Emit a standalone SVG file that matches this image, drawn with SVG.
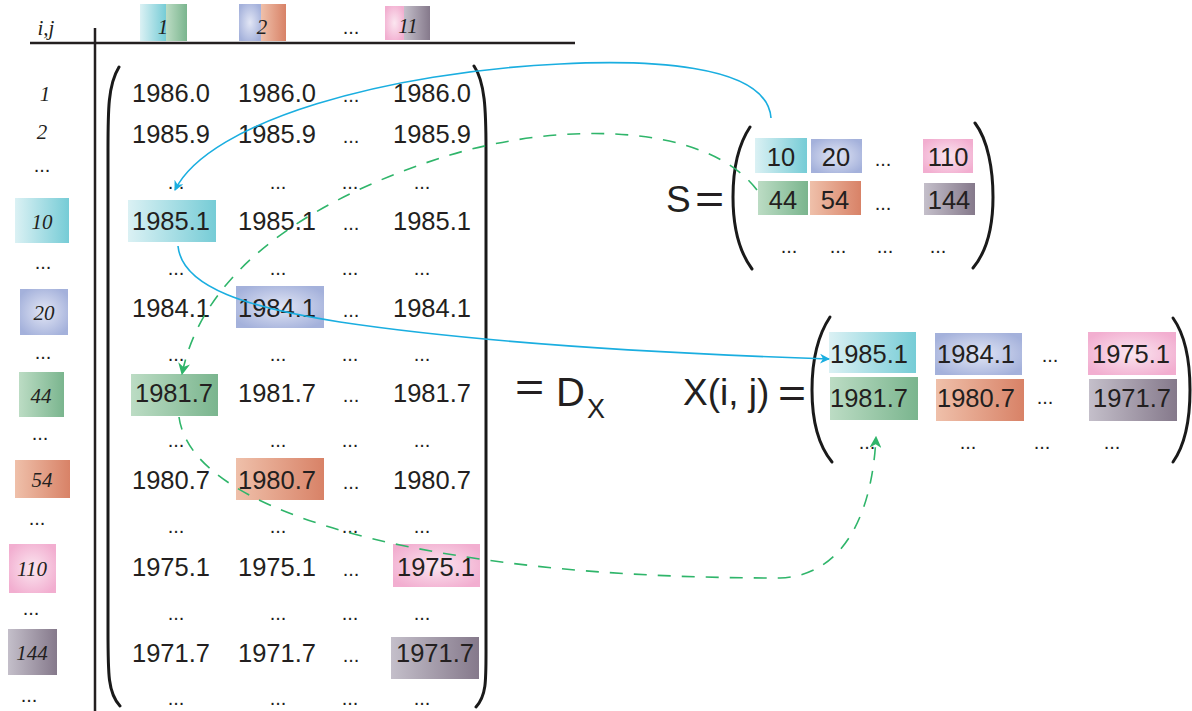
<svg xmlns="http://www.w3.org/2000/svg" width="1192" height="711" viewBox="0 0 1192 711">
<style>
.num{font-family:"Liberation Sans",Arial,sans-serif;font-size:25.5px;fill:#231f20;text-anchor:middle}
.numl{font-family:"Liberation Sans",Arial,sans-serif;font-size:25.5px;fill:#231f20}
.dots{font-family:"Liberation Sans",Arial,sans-serif;font-size:20px;fill:#231f20;text-anchor:middle}
.lab{font-family:"Liberation Serif","DejaVu Serif",serif;font-style:italic;font-size:21px;fill:#231f20;text-anchor:middle}
.big{font-family:"Liberation Sans",Arial,sans-serif;fill:#231f20}
.paren{fill:none;stroke:#1a1a1a;stroke-width:3;stroke-linecap:round}
.rule{stroke:#231f20;stroke-width:2.5}
.blue{fill:none;stroke:#1aaee0;stroke-width:1.6}
.green{fill:none;stroke:#2fb56a;stroke-width:1.6;stroke-dasharray:13 11}
</style>
<defs>
<linearGradient id="gC" x1="0" x2="1" y1="0" y2="0"><stop offset="0" stop-color="#dbf1f4"/><stop offset="1" stop-color="#76ccd6"/></linearGradient>
<linearGradient id="gG" x1="0" x2="1" y1="0" y2="0"><stop offset="0" stop-color="#bcdcc4"/><stop offset="1" stop-color="#7ab58e"/></linearGradient>
<radialGradient id="gB" cx="0.5" cy="0.5" r="0.6"><stop offset="0" stop-color="#e2e6f5"/><stop offset="1" stop-color="#a4b1db"/></radialGradient>
<linearGradient id="gO" x1="0" x2="1" y1="0" y2="0"><stop offset="0" stop-color="#efc0aa"/><stop offset="1" stop-color="#d88267"/></linearGradient>
<radialGradient id="gP" cx="0.5" cy="0.5" r="0.6"><stop offset="0" stop-color="#fbe6f0"/><stop offset="1" stop-color="#f2aed0"/></radialGradient>
<linearGradient id="gV" x1="0" x2="1" y1="0" y2="0"><stop offset="0" stop-color="#c4bfca"/><stop offset="1" stop-color="#85798b"/></linearGradient>
<marker id="aB" viewBox="0 0 10 10" refX="9" refY="5" markerWidth="10" markerHeight="10" markerUnits="userSpaceOnUse" orient="auto"><path d="M0,0 L10,5 L0,10 L3,5 z" fill="#1aaee0"/></marker>
<marker id="aG" viewBox="0 0 10 10" refX="9" refY="5" markerWidth="12" markerHeight="12" markerUnits="userSpaceOnUse" orient="auto"><path d="M0,0 L10,5 L0,10 L3,5 z" fill="#2fb56a"/></marker>
</defs>

<g id="table-frame">
<line class="rule" x1="30" y1="43" x2="575" y2="43"/>
<line class="rule" x1="95" y1="28" x2="95" y2="711"/>
</g>

<g id="header">
<text class="lab" x="46" y="35">i,j</text>
<rect x="140" y="4" width="26" height="37" fill="url(#gC)"/><rect x="166" y="4" width="21" height="37" fill="url(#gG)"/>
<text class="lab" x="163" y="34">1</text>
<rect x="239" y="4" width="22" height="37" fill="url(#gB)"/><rect x="261" y="4" width="25" height="37" fill="url(#gO)"/>
<text class="lab" x="262" y="34">2</text>
<text class="dots" x="351" y="34">...</text>
<rect x="385" y="6" width="19" height="34" fill="url(#gP)"/><rect x="404" y="6" width="26" height="34" fill="url(#gV)"/>
<text class="lab" x="408" y="33">11</text>
</g>

<g id="row-labels">
<text class="lab" x="45" y="101">1</text>
<text class="lab" x="42" y="139">2</text>
<text class="dots" x="42" y="172">...</text>
<rect x="15" y="198" width="54" height="45" fill="url(#gC)"/><text class="lab" x="42" y="229">10</text>
<text class="dots" x="43" y="269">...</text>
<rect x="20" y="289" width="48" height="46" fill="url(#gB)"/><text class="lab" x="44" y="320">20</text>
<text class="dots" x="43" y="359">...</text>
<rect x="19" y="372" width="45" height="45" fill="url(#gG)"/><text class="lab" x="41" y="403">44</text>
<text class="dots" x="40" y="440">...</text>
<rect x="15" y="460" width="55" height="38" fill="url(#gO)"/><text class="lab" x="42" y="487">54</text>
<text class="dots" x="37" y="525">...</text>
<rect x="9" y="544" width="47" height="49" fill="url(#gP)"/><text class="lab" x="32" y="576">110</text>
<text class="dots" x="31" y="615">...</text>
<rect x="8" y="629" width="49" height="46" fill="url(#gV)"/><text class="lab" x="32" y="660">144</text>
<text class="dots" x="29" y="702">...</text>
</g>

<g id="matrix-D">
<rect x="128" y="200" width="88" height="42" fill="url(#gC)"/>
<rect x="236" y="286" width="88" height="42" fill="url(#gB)"/>
<rect x="131" y="374" width="87" height="42" fill="url(#gG)"/>
<rect x="236" y="458" width="88" height="42" fill="url(#gO)"/>
<rect x="393" y="544" width="87" height="43" fill="url(#gP)"/>
<rect x="391" y="637" width="88" height="42" fill="url(#gV)"/>
<path class="paren" d="M119,67 C108,85 108,110 108,150 L108,630 C108,675 108,693 120,706"/>
<path class="paren" d="M474,66 C485,82 486,110 486,150 L486,640 C486,680 487,695 476,707"/>
<g>
<text class="num" x="171" y="102">1986.0</text><text class="num" x="277" y="102">1986.0</text><text class="dots" x="351" y="102">...</text><text class="num" x="432" y="102">1986.0</text>
<text class="num" x="171" y="143">1985.9</text><text class="num" x="277" y="143">1985.9</text><text class="dots" x="351" y="143">...</text><text class="num" x="432" y="143">1985.9</text>
<text class="dots" x="176" y="189">...</text><text class="dots" x="278" y="189">...</text><text class="dots" x="350" y="189">...</text><text class="dots" x="422" y="189">...</text>
<text class="num" x="171" y="230">1985.1</text><text class="num" x="277" y="230">1985.1</text><text class="dots" x="351" y="230">...</text><text class="num" x="432" y="230">1985.1</text>
<text class="dots" x="176" y="275">...</text><text class="dots" x="278" y="275">...</text><text class="dots" x="350" y="275">...</text><text class="dots" x="422" y="275">...</text>
<text class="num" x="171" y="317">1984.1</text><text class="num" x="277" y="317">1984.1</text><text class="dots" x="351" y="317">...</text><text class="num" x="432" y="317">1984.1</text>
<text class="dots" x="176" y="361">...</text><text class="dots" x="278" y="361">...</text><text class="dots" x="350" y="361">...</text><text class="dots" x="422" y="361">...</text>
<text class="num" x="174" y="402">1981.7</text><text class="num" x="277" y="402">1981.7</text><text class="dots" x="351" y="402">...</text><text class="num" x="432" y="402">1981.7</text>
<text class="dots" x="176" y="447">...</text><text class="dots" x="278" y="447">...</text><text class="dots" x="350" y="447">...</text><text class="dots" x="422" y="447">...</text>
<text class="num" x="171" y="489">1980.7</text><text class="num" x="277" y="489">1980.7</text><text class="dots" x="351" y="489">...</text><text class="num" x="432" y="489">1980.7</text>
<text class="dots" x="176" y="533">...</text><text class="dots" x="278" y="533">...</text><text class="dots" x="350" y="533">...</text><text class="dots" x="422" y="533">...</text>
<text class="num" x="171" y="576">1975.1</text><text class="num" x="277" y="576">1975.1</text><text class="dots" x="351" y="576">...</text><text class="num" x="436" y="576">1975.1</text>
<text class="dots" x="176" y="620">...</text><text class="dots" x="278" y="620">...</text><text class="dots" x="350" y="620">...</text><text class="dots" x="422" y="620">...</text>
<text class="num" x="171" y="662">1971.7</text><text class="num" x="277" y="662">1971.7</text><text class="dots" x="351" y="662">...</text><text class="num" x="435" y="662">1971.7</text>
<text class="dots" x="176" y="705">...</text><text class="dots" x="278" y="705">...</text><text class="dots" x="350" y="705">...</text><text class="dots" x="422" y="705">...</text>
</g>
</g>

<g id="eq-Dx">
<text class="big" font-size="40" transform="translate(515,401) scale(1.25,1)">=</text>
<text class="big" x="556" y="406" font-size="40">D</text>
<text class="big" x="587" y="418" font-size="27">X</text>
</g>

<g id="matrix-S">
<text class="big" x="666" y="212" font-size="37">S</text>
<text class="big" font-size="40" transform="translate(695,213) scale(1.25,1)">=</text>
<path class="paren" d="M750,127 C738,145 733,170 733,197 C733,225 738,250 752,269"/>
<path class="paren" d="M975,123 C988,140 993,170 993,197 C993,225 988,250 973,268"/>
<rect x="755" y="138" width="52" height="35" fill="url(#gC)"/><text class="num" x="781" y="166">10</text>
<rect x="811" y="139" width="51" height="34" fill="url(#gB)"/><text class="num" x="836" y="166">20</text>
<text class="dots" x="883" y="166">...</text>
<rect x="923" y="139" width="50" height="34" fill="url(#gP)"/><text class="num" x="948" y="166">110</text>
<rect x="758" y="181" width="50" height="34" fill="url(#gG)"/><text class="num" x="783" y="209">44</text>
<rect x="810" y="181" width="51" height="34" fill="url(#gO)"/><text class="num" x="835" y="209">54</text>
<text class="dots" x="883" y="210">...</text>
<rect x="924" y="183" width="51" height="32" fill="url(#gV)"/><text class="num" x="949" y="209">144</text>
<text class="dots" x="789" y="253">...</text><text class="dots" x="838" y="253">...</text><text class="dots" x="885" y="253">...</text><text class="dots" x="938" y="253">...</text>
</g>

<g id="matrix-X">
<text class="big" x="683" y="405" font-size="37">X(i, j)</text>
<text class="big" font-size="40" transform="translate(778,407) scale(1.2,1)">=</text>
<path class="paren" d="M830,317 C818,335 812,360 812,390 C812,420 818,445 832,462"/>
<path class="paren" d="M1173,318 C1185,335 1190,360 1190,390 C1190,420 1185,445 1173,462"/>
<rect x="829" y="332" width="87" height="41" fill="url(#gC)"/><text class="numl" x="830" y="363">1985.1</text>
<rect x="935" y="333" width="87" height="42" fill="url(#gB)"/><text class="numl" x="937" y="363">1984.1</text>
<text class="dots" x="1050" y="362">...</text>
<rect x="1088" y="332" width="88" height="43" fill="url(#gP)"/><text class="numl" x="1092" y="363">1975.1</text>
<rect x="830" y="377" width="88" height="43" fill="url(#gG)"/><text class="numl" x="830" y="407">1981.7</text>
<rect x="936" y="379" width="88" height="42" fill="url(#gO)"/><text class="numl" x="937" y="407">1980.7</text>
<text class="dots" x="1045" y="404">...</text>
<rect x="1089" y="379" width="88" height="42" fill="url(#gV)"/><text class="numl" x="1093" y="407">1971.7</text>
<text class="dots" x="867" y="449">...</text><text class="dots" x="968" y="449">...</text><text class="dots" x="1042" y="449">...</text><text class="dots" x="1112" y="449">...</text>
</g>

<g id="connectors">
<path class="blue" marker-end="url(#aB)" d="M771,118 C767,62 640,60 560,64 C390,72 210,120 175,190"/>
<path class="blue" marker-end="url(#aB)" d="M178,246 C182,288 250,308 340,322 C460,340 620,352 829,359"/>
<path class="green" marker-end="url(#aG)" d="M757,190 C705,122 560,122 450,155 C330,192 205,260 182,374"/>
<path class="green" marker-end="url(#aG)" d="M179,417 C186,470 260,515 400,545 C520,570 650,578 780,578 C840,576 872,520 876,437"/>
</g>
</svg>
